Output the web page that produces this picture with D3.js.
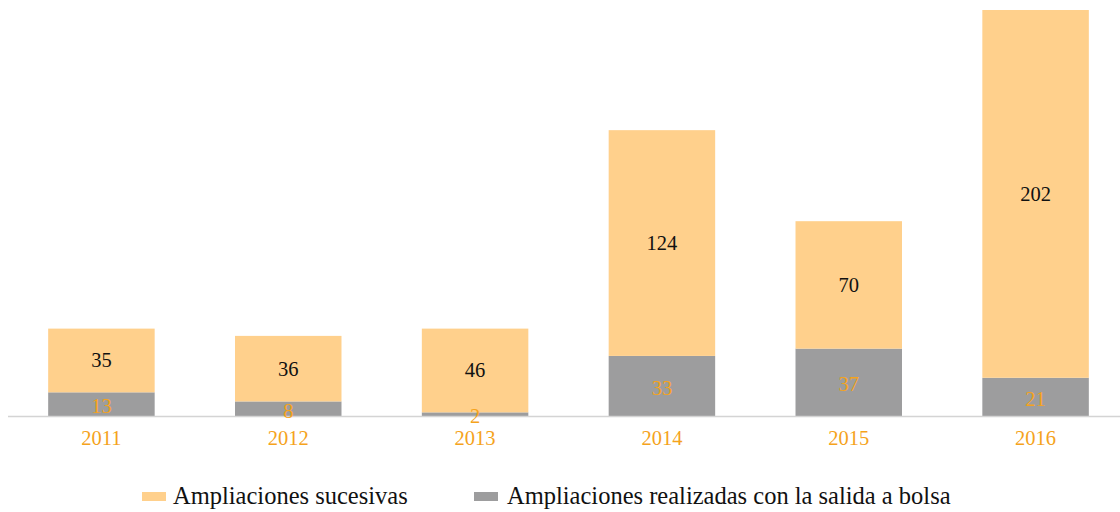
<!DOCTYPE html>
<html lang="es">
<head>
<meta charset="utf-8">
<script src="https://d3js.org/d3.v7.min.js"></script>
<style>
body { margin: 0; background: #fff; }
text { font-family: "Liberation Serif", "DejaVu Serif", serif; }
</style>
</head>
<body>
<svg id="chart"></svg>
<script>
// Chart data
var years = ["2011", "2012", "2013", "2014", "2015", "2016"];
var salidaBolsa = [13, 8, 2, 33, 37, 21];
var sucesivas = [35, 36, 46, 124, 70, 202];
var seriesNames = ["Ampliaciones sucesivas", "Ampliaciones realizadas con la salida a bolsa"];

var W = 1120, H = 512;
var baseline = 416, plotTop = 10;

var colOrange = "#ffd08c", colGray = "#9d9d9e", colLabel = "#f5a31c";

var svg = d3.select("#chart").attr("width", W).attr("height", H);

var x = d3.scaleBand().domain(years).range([8, 1129]).paddingInner(0.43).paddingOuter(0.215);
var y = d3.scaleLinear().domain([0, 223]).range([baseline, plotTop]);

var rows = years.map(function(yr, i) {
  return { year: yr, bolsa: salidaBolsa[i], suc: sucesivas[i] };
});

// bottom segment (salida a bolsa)
svg.selectAll("rect.bolsa").data(rows).enter().append("rect")
  .attr("class", "bolsa")
  .attr("x", function(d) { return x(d.year); })
  .attr("width", x.bandwidth())
  .attr("y", function(d) { return y(d.bolsa); })
  .attr("height", function(d) { return y(0) - y(d.bolsa); })
  .attr("fill", colGray);

// top segment (sucesivas)
svg.selectAll("rect.suc").data(rows).enter().append("rect")
  .attr("class", "suc")
  .attr("x", function(d) { return x(d.year); })
  .attr("width", x.bandwidth())
  .attr("y", function(d) { return y(d.bolsa + d.suc); })
  .attr("height", function(d) { return y(d.bolsa) - y(d.bolsa + d.suc); })
  .attr("fill", colOrange);

// axis line
svg.append("line")
  .attr("x1", 8).attr("x2", W)
  .attr("y1", baseline + 0.5).attr("y2", baseline + 0.5)
  .attr("stroke", "#d4d4d4").attr("stroke-width", 1.5);

// value labels
svg.selectAll("text.suc").data(rows).enter().append("text")
  .attr("class", "suc")
  .attr("x", function(d) { return x(d.year) + x.bandwidth() / 2; })
  .attr("y", function(d) { return (y(d.bolsa) + y(d.bolsa + d.suc)) / 2; })
  .attr("text-anchor", "middle").attr("dominant-baseline", "central")
  .attr("font-size", 20.5).attr("fill", "#111")
  .text(function(d) { return d.suc; });

svg.selectAll("text.bolsa").data(rows).enter().append("text")
  .attr("class", "bolsa")
  .attr("x", function(d) { return x(d.year) + x.bandwidth() / 2; })
  .attr("y", function(d) { return (y(0) + y(d.bolsa)) / 2 + 2; })
  .attr("text-anchor", "middle").attr("dominant-baseline", "central")
  .attr("font-size", 20.5).attr("fill", colLabel)
  .text(function(d) { return d.bolsa; });

// year labels
svg.selectAll("text.year").data(years).enter().append("text")
  .attr("class", "year")
  .attr("x", function(d) { return x(d) + x.bandwidth() / 2; })
  .attr("y", 438)
  .attr("text-anchor", "middle").attr("dominant-baseline", "central")
  .attr("font-size", 20.5).attr("fill", colLabel)
  .text(function(d) { return d; });

// legend
var legend = [
  { name: seriesNames[0], color: colOrange, sx: 142, tx: 173 },
  { name: seriesNames[1], color: colGray, sx: 474, tx: 507 }
];
legend.forEach(function(l) {
  svg.append("rect").attr("x", l.sx).attr("y", 492).attr("width", 24).attr("height", 9).attr("fill", l.color);
  svg.append("text").attr("x", l.tx).attr("y", 495)
    .attr("dominant-baseline", "central")
    .attr("font-size", 24.5).attr("fill", "#111")
    .text(l.name);
});
</script>
</body>
</html>
